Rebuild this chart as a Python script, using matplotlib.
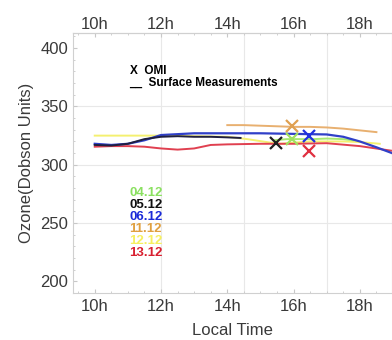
import matplotlib.pyplot as plt
from matplotlib.ticker import MultipleLocator, FixedLocator, FuncFormatter

plt.rcParams['font.family'] = ['Liberation Sans', 'DejaVu Sans']

# surface measurements (local time in hours, ozone in DU)
t_0512 = [10.0, 10.5, 11.0, 11.5, 12.0, 12.5, 13.0, 13.5, 14.0, 14.4]
o_0512 = [317, 316.5, 318, 322, 324, 324.5, 324, 324, 323.5, 323]

t_0612 = [10.0, 10.5, 11.0, 11.5, 12.0, 13.0, 14.0, 15.0, 16.0, 17.0, 17.5, 18.0, 18.5, 18.97]
o_0612 = [318, 317, 318, 321, 325.5, 327, 327, 327, 326.5, 326, 324, 320, 315, 310]

t_1312 = [10.0, 10.5, 11.0, 11.5, 12.0, 12.5, 13.0, 13.5, 14.0, 15.0, 16.0, 17.0, 18.0, 18.97]
o_1312 = [315.5, 316, 316, 315.5, 314, 313, 314, 317, 317.5, 318, 318, 318.5, 316, 312]

t_1212 = [10.0, 11.0, 12.0, 13.0, 14.0, 14.6, 15.3, 15.6, 16.0, 16.5, 17.0, 17.5, 18.0, 18.6]
o_1212 = [325, 325, 325, 324.5, 324, 322, 319, 318, 319, 320, 320, 320, 319.5, 318]

t_1112 = [14.0, 14.5, 15.0, 15.5, 16.0, 16.5, 17.0, 17.5, 18.0, 18.5]
o_1112 = [334, 334, 333.5, 333, 332.5, 332.5, 332, 331, 329.5, 328]

t_0412 = [15.4, 15.8, 16.2, 16.6, 17.0, 17.5, 17.8]
o_0412 = [321, 322, 322, 322, 322.5, 322, 321]

# OMI overpass values
omi_t = [15.47, 15.95, 16.47, 16.47, 15.95]
omi_o = [319, 333, 324.5, 311.5, 322]
omi_c = ['#202020', '#e0a050', '#2030e0', '#e03040', '#a0e060']

hours = [10, 12, 14, 16, 18]
dates = ['04.12', '05.12', '06.12', '11.12', '12.12', '13.12']
date_colors = ['#8ae060', '#101010', '#1a2ad8', '#e0a040', '#f6f060', '#d82030']

fig = plt.figure(figsize=(3.92, 3.40), dpi=100)
ax = fig.add_axes([0.185, 0.138, 0.815, 0.765])

ax.plot(t_1212, o_1212, color='#f4f070', lw=1.4)
ax.plot(t_0412, o_0412, color='#a8e870', lw=1.4)
ax.plot(t_1312, o_1312, color='#e04050', lw=1.4)
ax.plot(t_1112, o_1112, color='#e8b070', lw=1.4)
ax.plot(t_0612, o_0612, color='#3040c8', lw=1.6)
ax.plot(t_0512, o_0512, color='#202040', lw=1.4)
for t, o, c in zip(omi_t, omi_o, omi_c):
    ax.plot(t, o, marker='x', ms=9, mew=1.6, color=c, ls='none')

ax.set_xlim(9.33, 18.97)
ax.set_ylim(190, 413)

hfmt = FuncFormatter(lambda v, p: '%dh' % v)
ax.xaxis.set_major_locator(FixedLocator(hours))
ax.xaxis.set_minor_locator(MultipleLocator(0.5))
ax.yaxis.set_major_locator(MultipleLocator(50))
ax.yaxis.set_minor_locator(MultipleLocator(10))
ax.xaxis.set_major_formatter(hfmt)
ax.tick_params(which='both', direction='in', colors='#c8c8c8', labelcolor='#3a3a3a',
               labelsize=12, right=False, top=False)
ax.tick_params(which='major', length=3)
ax.tick_params(which='minor', length=1.5)
ax.tick_params(axis='y', which='major', pad=3)
ax.tick_params(axis='x', which='major', pad=4.5)

top = ax.secondary_xaxis('top')
top.xaxis.set_major_locator(FixedLocator(hours))
top.xaxis.set_minor_locator(MultipleLocator(0.5))
top.xaxis.set_major_formatter(hfmt)
top.tick_params(which='both', direction='in', colors='#c8c8c8', labelcolor='#3a3a3a',
                labelsize=12)
top.tick_params(which='major', length=3, pad=1)
top.tick_params(which='minor', length=1.5)
top.spines['top'].set_color('#d0d0d0')

for g in [12, 14.5, 17]:
    ax.axvline(g, color='#e8e8e8', lw=0.8, zorder=0)
for g in [250, 300, 350]:
    ax.axhline(g, color='#e8e8e8', lw=0.8, zorder=0)
for s in ax.spines.values():
    s.set_color('#d0d0d0')

ax.set_xlabel('Local Time', fontsize=12, color='#3a3a3a', labelpad=6)
ax.set_ylabel('Ozone(Dobson Units)', fontsize=12, color='#3a3a3a', labelpad=5)

ax.text(11.05, 380, 'X  OMI', fontsize=8.5, fontweight='bold', va='center')
ax.text(11.05, 370.5, '__  Surface Measurements', fontsize=8.5, fontweight='bold', va='center')

for i, (d, c) in enumerate(zip(dates, date_colors)):
    ax.text(11.05, 275.5 - i * 10.2, d, color=c, fontsize=9.5, fontweight='bold', va='center')

plt.savefig('out.png', dpi=100)
